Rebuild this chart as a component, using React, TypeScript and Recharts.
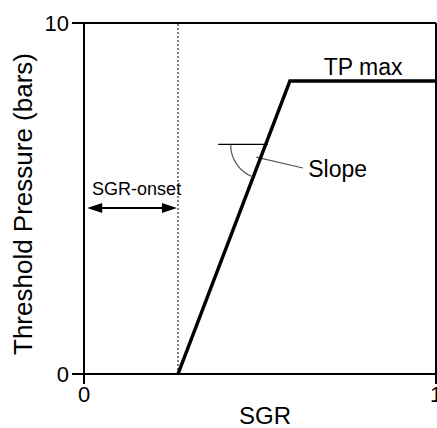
import React from 'react';
import { LineChart, Line, XAxis, YAxis, ReferenceLine, ReferenceDot } from 'recharts';

// threshold pressure vs SGR (schematic)
const sgr = [0.267, 0.585, 1];
const pressure = [0, 8.35, 8.35];
const xTicks = [0, 1];
const yTicks = [0, 10];
const sgrOnset = 0.267;

const data = sgr.map((x, i) => ({ x, y: pressure[i] }));

const FONT = '"Liberation Sans", Arial, sans-serif';

const ArrowShape = (props: any) => {
  const { x1, y1, x2 } = props;
  const hl = 15;
  const hw = 5;
  return (
    <g>
      <line x1={x1 + 5} y1={y1} x2={x2 - 5} y2={y1} stroke="#000" strokeWidth={2} />
      <polygon points={`${x1},${y1} ${x1 + hl},${y1 - hw} ${x1 + hl},${y1 + hw}`} fill="#000" />
      <polygon points={`${x2},${y1} ${x2 - hl},${y1 - hw} ${x2 - hl},${y1 + hw}`} fill="#000" />
    </g>
  );
};

const ArcShape = (props: any) => {
  const { cx, cy } = props;
  const r = 35;
  return (
    <path
      d={`M ${cx - r} ${cy} A ${r} ${r} 0 0 0 ${cx - 12.8} ${cy + 32.6}`}
      fill="none"
      stroke="#555"
      strokeWidth={1.2}
    />
  );
};

const textShape = (value: string, size: number, anchor: 'start' | 'middle' | 'end') => (props: any) => (
  <text x={props.cx} y={props.cy} fontSize={size} fontFamily={FONT} fill="#000" textAnchor={anchor}>
    {value}
  </text>
);

export default function App() {
  return (
    <div style={{ position: 'absolute', left: 0, top: 0, background: '#fff' }}>
      <LineChart width={437} height={428} data={data} margin={{ top: 23, right: 1, left: 0, bottom: 24 }}>
        <XAxis
          dataKey="x"
          type="number"
          domain={[0, 1]}
          ticks={xTicks}
          height={30}
          tickSize={10}
          tickMargin={2}
          interval={0}
          axisLine={{ stroke: '#000', strokeWidth: 2 }}
          tickLine={{ stroke: '#000', strokeWidth: 2 }}
          tick={{ fill: '#000', fontSize: 22, fontFamily: FONT }}
          label={(p: any) => (
            <text x={265} y={424} fontSize={24} fontFamily={FONT} textAnchor="middle" fill="#000">
              SGR
            </text>
          )}
        />
        <YAxis
          dataKey="y"
          type="number"
          domain={[0, 10]}
          ticks={yTicks}
          width={84}
          tickSize={12}
          tickMargin={3}
          interval={0}
          axisLine={{ stroke: '#000', strokeWidth: 2 }}
          tickLine={{ stroke: '#000', strokeWidth: 2 }}
          tick={{ fill: '#000', fontSize: 22, fontFamily: FONT }}
          label={(p: any) => (
            <text
              x={32}
              y={204}
              fontSize={26}
              fontFamily={FONT}
              textAnchor="middle"
              fill="#000"
              transform="rotate(-90 32 204)"
            >
              Threshold Pressure (bars)
            </text>
          )}
        />
        <ReferenceLine y={10} stroke="#000" strokeWidth={2} />
        <ReferenceLine x={1} stroke="#000" strokeWidth={2} />
        <ReferenceLine x={sgrOnset} stroke="#555" strokeWidth={1.5} strokeDasharray="2 2" />
        <ReferenceLine
          segment={[{ x: 0.009, y: 4.73 }, { x: 0.264, y: 4.73 }]}
          shape={ArrowShape}
        />
        <ReferenceLine
          segment={[{ x: 0.381, y: 6.54 }, { x: 0.522, y: 6.54 }]}
          stroke="#000"
          strokeWidth={1.2}
        />
        <ReferenceLine
          segment={[{ x: 0.489, y: 6.18 }, { x: 0.622, y: 5.87 }]}
          stroke="#555"
          strokeWidth={1.2}
        />
        <ReferenceDot x={0.516} y={6.54} shape={ArcShape} />
        <ReferenceDot x={0.793} y={8.52} shape={textShape('TP max', 23, 'middle')} />
        <ReferenceDot x={0.637} y={5.61} shape={textShape('Slope', 23, 'start')} />
        <ReferenceDot x={0.023} y={5.1} shape={textShape('SGR-onset', 18, 'start')} />
        <Line
          dataKey="y"
          type="linear"
          stroke="#000"
          strokeWidth={3.5}
          dot={false}
          activeDot={false}
          isAnimationActive={false}
        />
      </LineChart>
    </div>
  );
}
